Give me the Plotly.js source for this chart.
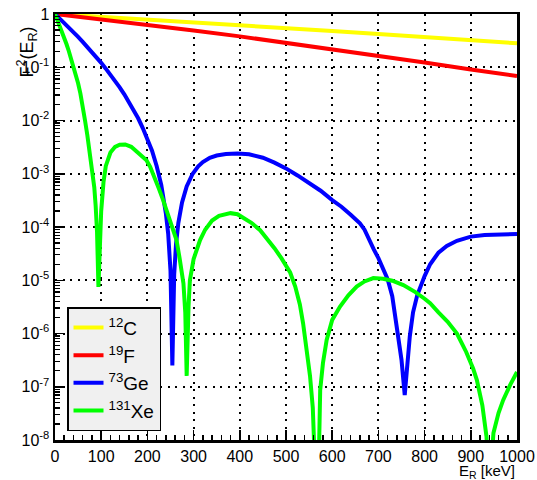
<!DOCTYPE html>
<html>
<head>
<meta charset="utf-8">
<script src="https://cdn.plot.ly/plotly-3.0.1.min.js"></script>
<style>html,body{margin:0;padding:0;background:#fff;}#plot{width:537px;height:480px;}</style>
</head>
<body>
<div id="plot"></div>
<script>
// ---- data ----
var seriesNames = ["<sup>12</sup>C", "<sup>19</sup>F", "<sup>73</sup>Ge", "<sup>131</sup>Xe"];
var seriesColors = ["#ffff00", "#ff0000", "#0000ff", "#00ff00"];

var E_C = [0,100,200,300,400,500,600,700,800,900,1000];
var F2_C = [1,0.89,0.785,0.69,0.61,0.537,0.479,0.422,0.372,0.324,0.282];

var E_F = [0,100,200,300,400,500,600,700,800,900,1000];
var F2_F = [1,0.794,0.631,0.49,0.38,0.288,0.219,0.166,0.123,0.091,0.0685];

var E_Ge = [0,10,20,30,40,50,60,70,80,90,100,110,120,130,140,150,160,170,180,190,200,210,220,230,240,245,250,254,258,262,267,275,285,298,310,320,335,350,370,395,420,450,475,500,525,550,575,600,620,640,660,670,680,690,700,710,720,730,740,750,757,763,768,775,784,800,812,830,848,870,900,930,960,1000];
var F2_Ge = [1,0.83,0.68,0.56,0.458,0.372,0.30,0.242,0.194,0.153,0.121,0.094,0.073,0.055,0.042,0.031,0.0224,0.0159,0.011,0.0072,0.0046,0.0027,0.0014,6.2e-4,1.8e-4,7.5e-5,1.5e-5,2.5e-7,1.3e-5,4.8e-5,1.2e-4,2.9e-4,5.8e-4,1.0e-3,1.38e-3,1.66e-3,2.0e-3,2.2e-3,2.35e-3,2.4e-3,2.32e-3,2.0e-3,1.62e-3,1.26e-3,9.3e-4,6.8e-4,4.8e-4,3.2e-4,2.4e-4,1.7e-4,1.17e-4,8.9e-5,5.6e-5,3.8e-5,2.6e-5,1.66e-5,1.05e-5,5.0e-6,1.4e-6,3.2e-7,7e-8,3.2e-7,8.9e-7,2.5e-6,5.2e-6,1.2e-5,2.0e-5,3.3e-5,4.4e-5,5.5e-5,6.6e-5,7.1e-5,7.3e-5,7.4e-5];

var E_Xe = [0,5,10,15,20,25,30,35,40,45,50,55,60,65,70,75,80,85,88,91,94,97,100,105,110,120,130,140,152,165,180,198,206,215,225,234,245,255,263,270,274,278,282,285,289,292,300,307,314,325,340,355,370,380,395,410,425,444,460,475,490,500,509,520,530,537,545,552,558,563,567,571,574,580,588,600,617,635,653,670,689,710,730,754,780,800,812,830,850,870,890,905,913,925,934,940,945,949,960,970,985,1000];
var F2_Xe = [1,0.78,0.62,0.48,0.36,0.27,0.20,0.145,0.105,0.074,0.050,0.032,0.019,0.010,0.0053,0.0025,0.0013,5.6e-4,2.5e-4,8e-5,7.5e-6,6e-5,2.0e-4,7.0e-4,1.4e-3,2.5e-3,3.2e-3,3.5e-3,3.55e-3,3.2e-3,2.5e-3,1.8e-3,1.35e-3,8.9e-4,5.2e-4,3.2e-4,1.66e-4,8.9e-5,5.7e-5,2.5e-5,1.35e-5,8.7e-6,2.5e-6,1.6e-7,3.2e-6,1.0e-5,2.5e-5,3.7e-5,5.7e-5,8.9e-5,1.32e-4,1.62e-4,1.78e-4,1.82e-4,1.74e-4,1.48e-4,1.2e-4,8.7e-5,6.0e-5,4.0e-5,2.6e-5,1.9e-5,1.4e-5,7.6e-6,3.5e-6,1.55e-6,5e-7,1.6e-7,4e-8,5e-9,3e-10,4e-9,8.7e-8,2.8e-7,7.6e-7,1.8e-6,3.2e-6,5.2e-6,7.6e-6,9.5e-6,1.1e-5,1.07e-5,9.8e-6,8.1e-6,6.0e-6,4.5e-6,3.7e-6,2.5e-6,1.66e-6,1.0e-6,4.5e-7,2.2e-7,1.35e-7,4.5e-8,1.15e-8,1e-9,5e-9,1.35e-8,3.2e-8,5.6e-8,1.07e-7,1.9e-7];

var xTickVals = [0,100,200,300,400,500,600,700,800,900,1000];
var xTickText = ["0","100","200","300","400","500","600","700","800","900","1000"];
var yTickVals = [1e-8,1e-7,1e-6,1e-5,1e-4,1e-3,1e-2,1e-1,1];
var yTickText = ["10<sup>-8</sup>","10<sup>-7</sup>","10<sup>-6</sup>","10<sup>-5</sup>","10<sup>-4</sup>","10<sup>-3</sup>","10<sup>-2</sup>","10<sup>-1</sup>","1"];
var xTitle = "E<sub>R</sub> [keV]";
var yTitle = "F<sup>2</sup>(E<sub>R</sub>)";

var xs = [E_C, E_F, E_Ge, E_Xe];
var ys = [F2_C, F2_F, F2_Ge, F2_Xe];
var traces = xs.map(function(x, i){
  return {x: x, y: ys[i], type: "scatter", mode: "lines", name: seriesNames[i],
          line: {color: seriesColors[i], width: 4}};
});

var font = "Liberation Sans, Arial, Helvetica, sans-serif";
var layout = {
  width: 537, height: 480,
  margin: {l: 55, r: 20, t: 14, b: 40},
  paper_bgcolor: "#ffffff", plot_bgcolor: "#ffffff",
  font: {family: font, size: 16, color: "#000"},
  showlegend: true,
  legend: {x: 0.026, y: 0.312, xanchor: "left", yanchor: "top",
           bgcolor: "#f0f0f0", bordercolor: "#000", borderwidth: 1.5,
           font: {family: font, size: 19, color: "#000"}, tracegroupgap: 0},
  xaxis: {range: [0, 1000], tickmode: "array", tickvals: xTickVals, ticktext: xTickText,
          ticks: "inside", ticklen: 10, tickwidth: 1.5, tickcolor: "#000",
          showline: true, linewidth: 2.5, linecolor: "#000", mirror: true, zeroline: false,
          showgrid: true, gridcolor: "#000", gridwidth: 2, griddash: "2px,5.5px",
          minor: {dtick: 20, ticks: "inside", ticklen: 5, tickwidth: 1.5, tickcolor: "#000", showgrid: false},
          tickfont: {family: font, size: 16, color: "#000"}},
  yaxis: {type: "log", range: [-8, 0], tickmode: "array", tickvals: yTickVals, ticktext: yTickText,
          ticks: "inside", ticklen: 10, tickwidth: 1.5, tickcolor: "#000",
          showline: true, linewidth: 2.5, linecolor: "#000", mirror: true, zeroline: false,
          showgrid: true, gridcolor: "#000", gridwidth: 2, griddash: "2px,5.5px",
          minor: {dtick: "D1", ticks: "inside", ticklen: 5, tickwidth: 1.2, tickcolor: "#000", showgrid: false},
          tickfont: {family: font, size: 16, color: "#000"}},
  annotations: [
    {text: xTitle, xref: "paper", yref: "paper", x: 1, y: -0.074, xanchor: "right", yanchor: "middle",
     showarrow: false, font: {family: font, size: 15, color: "#000"}},
    {text: yTitle, xref: "paper", yref: "paper", x: -0.062, y: 0.975, xanchor: "center", yanchor: "top",
     textangle: -90, showarrow: false, font: {family: font, size: 18, color: "#000"}}
  ]
};
Plotly.newPlot("plot", traces, layout, {staticPlot: true, displayModeBar: false});
</script>
</body>
</html>
